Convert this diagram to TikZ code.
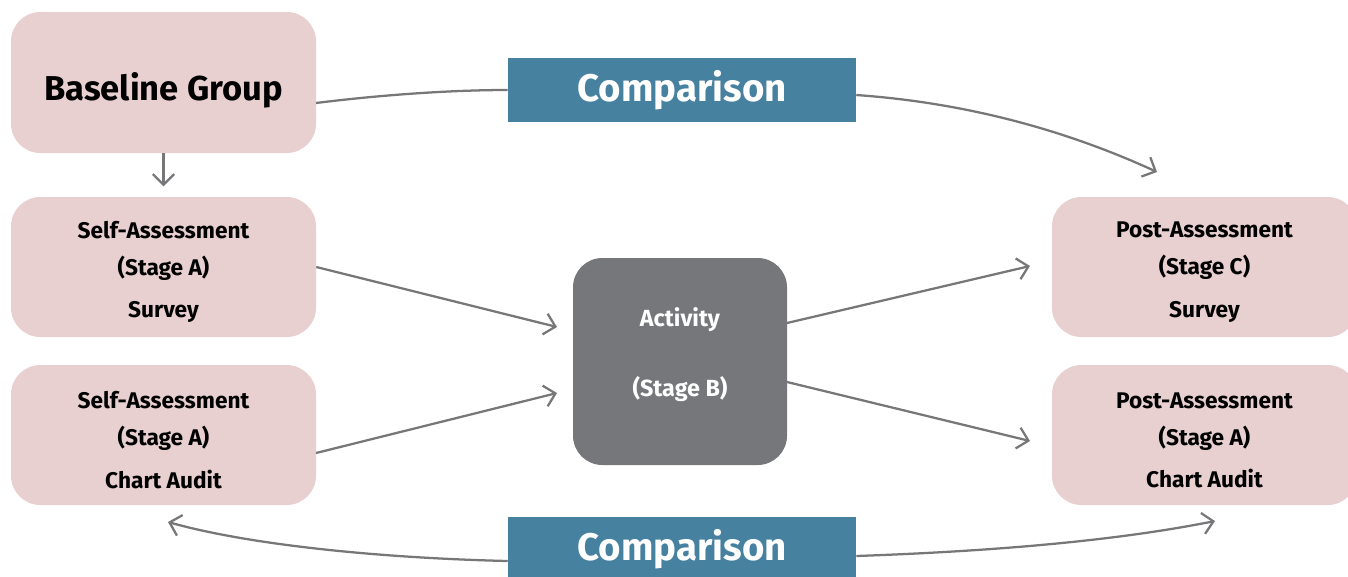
\documentclass[tikz,border=0pt]{standalone}
\usepackage{fontspec}
\setmainfont{Fira Sans}
\usetikzlibrary{arrows.meta}
\definecolor{pinkbox}{HTML}{E8D0D1}
\definecolor{tealbox}{HTML}{4781A0}
\definecolor{graybox}{HTML}{76777B}
\definecolor{arrowgray}{HTML}{77777A}
\tikzset{
  pbox/.style={fill=pinkbox, rounded corners=22pt, minimum width=228.75pt, minimum height=105pt, inner sep=0pt},
  ptext/.style={inner sep=0pt, align=center, font=\fontsize{17}{27.75}\selectfont\bfseries},
  cbox/.style={fill=tealbox, minimum width=261pt, minimum height=48pt, inner sep=0pt, text=white, font=\fontsize{28.8}{32}\selectfont\bfseries},
  conn/.style={draw=arrowgray, line width=1.7pt, -{Straight Barb[length=8pt,width=16pt,line width=1.7pt]}},
  plain/.style={draw=arrowgray, line width=1.7pt}
}
\begin{document}
\begin{tikzpicture}[x=0.75pt,y=-0.75pt]
\useasboundingbox (0,0) rectangle (1348,576);
\clip (0,0) rectangle (1348,576);
\coordinate (topend) at (1157,172);
\coordinate (blend) at (168,522);
\coordinate (brend) at (1215,521);
% boxes
\node[pbox, minimum height=105.75pt] (base) at (163.5,82.5) {};
\node[ptext, font=\fontsize{25.9}{30}\selectfont\bfseries] (base-t) at ([yshift=-6pt]base.center) {Baseline Group};
\node[pbox] (sas) at (163.5,267) {};
\node[ptext] (sas-t) at ([yshift=-3.75pt]sas.center) {Self-Assessment\\(Stage A)\\[4pt]Survey};
\node[pbox] (sac) at (163.5,435) {};
\node[ptext] (sac-t) at ([yshift=-3.75pt]sac.center) {Self-Assessment\\(Stage A)\\[4pt]Chart Audit};
\node[pbox] (pas) at (1204.5,267) {};
\node[ptext] (pas-t) at ([yshift=-3.75pt]pas.center) {Post-Assessment\\(Stage C)\\[4pt]Survey};
\node[pbox] (pac) at (1204.5,435) {};
\node[ptext] (pac-t) at ([yshift=-3.75pt]pac.center) {Post-Assessment\\(Stage A)\\[4pt]Chart Audit};
\node[fill=graybox, rounded corners=22pt, minimum width=160.5pt, minimum height=155.25pt, inner sep=0pt] (act) at (680,361.5) {};
\node[inner sep=0pt, align=center, text=white, font=\fontsize{17.5}{52.5}\selectfont\bfseries] (act-t) at ([yshift=5.25pt]act.center) {Activity\\(Stage B)};
% comparison boxes
\node[cbox] (ctop) at (682,90) {Comparison};
\node[cbox] (cbot) at (682,549) {Comparison};
% connectors
\draw[plain] (316,103) .. controls (380,95) and (450,90) .. (ctop.west);
\draw[conn] ([yshift=-3.75pt]ctop.east) .. controls (970,103) and (1070,132) .. (topend);
\draw[conn] ([yshift=-9pt]cbot.west) .. controls (380,558) and (250,545) .. (blend);
\draw[conn] ([yshift=-5.25pt]cbot.east) .. controls (1000,551) and (1120,540) .. (brend);
\draw[conn] (base.south) -- ++(0,33);
\draw[conn] (sas.east) -- (557,327);
\draw[conn] (316,453) -- (557,393);
\draw[conn] (787,323) -- (1030,266);
\draw[conn] (787,382) -- (1030,441);
\end{tikzpicture}
\end{document}
